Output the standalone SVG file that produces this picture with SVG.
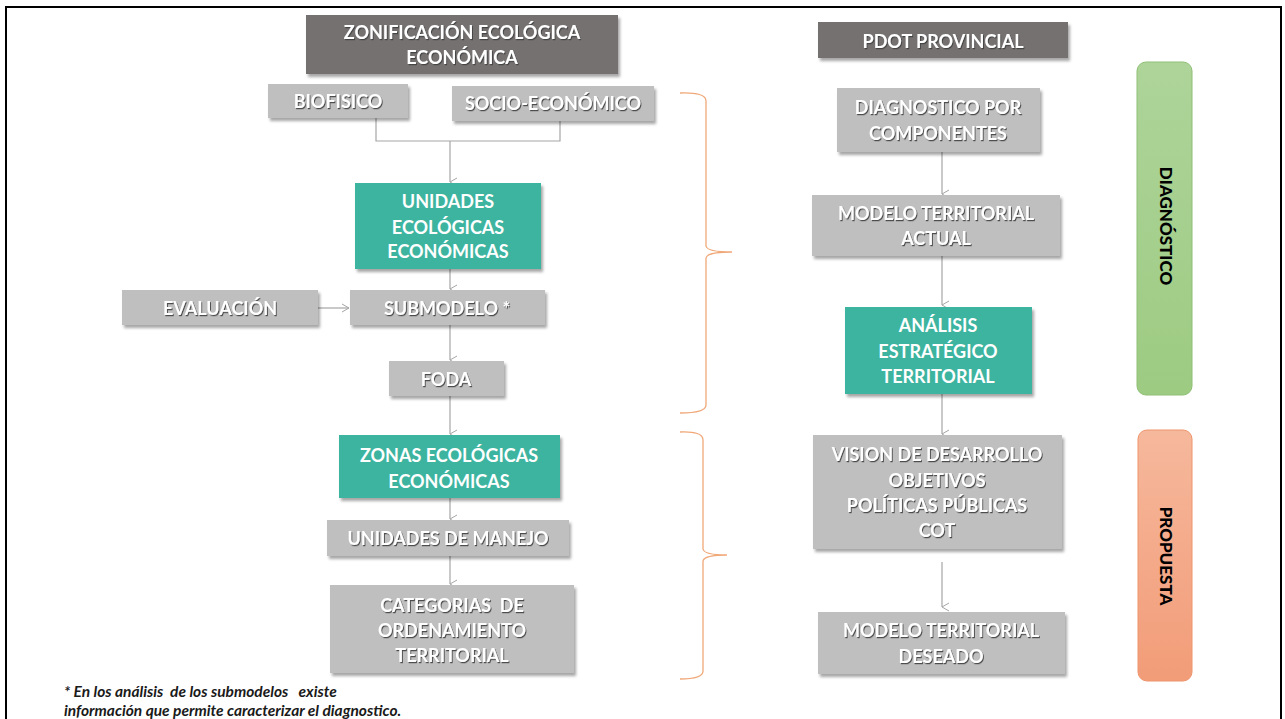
<svg xmlns="http://www.w3.org/2000/svg" width="1285" height="719" viewBox="0 0 1285 719">
<defs>
<filter id="bs" x="-10%" y="-10%" width="125%" height="135%">
<feDropShadow dx="2" dy="3" stdDeviation="1.5" flood-color="#000" flood-opacity="0.35"/>
</filter>
<filter id="ts" x="-10%" y="-30%" width="120%" height="160%">
<feDropShadow dx="1" dy="1.2" stdDeviation="0.7" flood-color="#404040" flood-opacity="0.9"/>
</filter>
<linearGradient id="gg" x1="0" y1="0" x2="0" y2="1">
<stop offset="0" stop-color="#AED49A"/>
<stop offset="1" stop-color="#9DCB82"/>
</linearGradient>
<linearGradient id="og" x1="0" y1="0" x2="0" y2="1">
<stop offset="0" stop-color="#F6B89C"/>
<stop offset="1" stop-color="#F29C78"/>
</linearGradient>
<marker id="ah" markerWidth="12" markerHeight="12" refX="5" refY="8" orient="auto-start-reverse" markerUnits="userSpaceOnUse" viewBox="0 0 12 12">
<path d="M1,1 L5,8 L9,1" fill="none" stroke="#A6A6A6" stroke-width="1"/>
</marker>
<marker id="ahr" markerWidth="12" markerHeight="12" refX="8" refY="5" markerUnits="userSpaceOnUse" viewBox="0 0 12 12">
<path d="M1,1 L8,5 L1,9" fill="none" stroke="#A6A6A6" stroke-width="1"/>
</marker>
</defs>
<style>
.g{fill:#BFBFBF;filter:url(#bs)}
.d{fill:#767171;filter:url(#bs)}
.t{fill:#3CB4A0;filter:url(#bs)}
.tx{font-family:Lato,"Open Sans","Liberation Sans",sans-serif;font-weight:700;font-size:18px;fill:#fff;text-anchor:middle;dominant-baseline:central}
.sh{filter:url(#ts)}
.c{fill:none;stroke:#A6A6A6;stroke-width:1.2}
.br{fill:none;stroke:#F0A878;stroke-width:1.3}
.vl{font-family:Lato,"Open Sans","Liberation Sans",sans-serif;font-weight:900;font-size:17px;fill:#000;text-anchor:middle;dominant-baseline:central}
.fn{font-family:Lato,"Open Sans","Liberation Sans",sans-serif;font-weight:700;font-style:italic;font-size:15.5px;fill:#1a1a1a;white-space:pre}
</style>
<rect x="0" y="0" width="1285" height="719" fill="#fff"/>
<rect x="6" y="7" width="1275" height="730" fill="none" stroke="#000" stroke-width="2"/>

<g id="connectors">
<path class="c" d="M376,118 V141 H560 V121"/>
<path class="c" d="M450,141 V182" marker-end="url(#ah)"/>
<path class="c" d="M450,269 V289" marker-end="url(#ah)"/>
<path class="c" d="M318,308 H349" marker-end="url(#ahr)"/>
<path class="c" d="M450,325 V360" marker-end="url(#ah)"/>
<path class="c" d="M450,396 V434" marker-end="url(#ah)"/>
<path class="c" d="M450,498 V519" marker-end="url(#ah)"/>
<path class="c" d="M450,556 V584" marker-end="url(#ah)"/>
<path class="c" d="M942,152 V194" marker-end="url(#ah)"/>
<path class="c" d="M942,256 V305" marker-end="url(#ah)"/>
<path class="c" d="M942,394 V434" marker-end="url(#ah)"/>
<path class="c" d="M942,562 V607" marker-end="url(#ah)"/>
</g>

<g id="brace-diagnostico">
<path class="br" d="M680,93 Q706,92 706,101 V246 Q707,252 732,252 Q707,252 706,258 V405 Q706,413 680,413"/>
</g>
<g id="brace-propuesta">
<path class="br" d="M680,432 Q703,431 703,440 V549 Q704,555 727,555 Q704,555 703,561 V671 Q703,679 680,679"/>
</g>

<g id="zee">
<rect class="d" x="306" y="15" width="312" height="59"/>
<text class="tx sh" x="462" y="32">ZONIFICACIÓN ECOLÓGICA</text>
<text class="tx sh" x="462" y="57">ECONÓMICA</text>
</g>
<g id="biofisico">
<rect class="g" x="268" y="84" width="140" height="34"/>
<text class="tx sh" x="338" y="101">BIOFISICO</text>
</g>
<g id="socioeconomico">
<rect class="g" x="452" y="86" width="202" height="35"/>
<text class="tx sh" x="553" y="103">SOCIO-ECONÓMICO</text>
</g>
<g id="unidades-ecologicas">
<rect class="t" x="355" y="183" width="186" height="86"/>
<text class="tx" x="448" y="201">UNIDADES</text>
<text class="tx" x="448" y="227">ECOLÓGICAS</text>
<text class="tx" x="448" y="251">ECONÓMICAS</text>
</g>
<g id="evaluacion">
<rect class="g" x="122" y="290" width="196" height="35"/>
<text class="tx sh" x="220" y="308">EVALUACIÓN</text>
</g>
<g id="submodelo">
<rect class="g" x="350" y="290" width="195" height="35"/>
<text class="tx sh" x="447" y="308">SUBMODELO *</text>
</g>
<g id="foda">
<rect class="g" x="389" y="361" width="115" height="35"/>
<text class="tx sh" x="446" y="379">FODA</text>
</g>
<g id="zonas">
<rect class="t" x="339" y="435" width="221" height="63"/>
<text class="tx" x="449" y="455">ZONAS ECOLÓGICAS</text>
<text class="tx" x="449" y="481">ECONÓMICAS</text>
</g>
<g id="unidades-manejo">
<rect class="g" x="327" y="520" width="242" height="36"/>
<text class="tx sh" x="448" y="538">UNIDADES DE MANEJO</text>
</g>
<g id="categorias">
<rect class="g" x="330" y="585" width="244" height="88"/>
<text class="tx sh" x="452" y="605" style="white-space:pre">CATEGORIAS  DE</text>
<text class="tx sh" x="452" y="630">ORDENAMIENTO</text>
<text class="tx sh" x="452" y="655">TERRITORIAL</text>
</g>

<g id="pdot">
<rect class="d" x="818" y="22" width="250" height="36"/>
<text class="tx sh" x="943" y="41">PDOT PROVINCIAL</text>
</g>
<g id="diagnostico-componentes">
<rect class="g" x="837" y="88" width="203" height="64"/>
<text class="tx sh" x="938" y="107">DIAGNOSTICO POR</text>
<text class="tx sh" x="938" y="133">COMPONENTES</text>
</g>
<g id="modelo-actual">
<rect class="g" x="812" y="195" width="248" height="61"/>
<text class="tx sh" x="936" y="213">MODELO TERRITORIAL</text>
<text class="tx sh" x="936" y="238">ACTUAL</text>
</g>
<g id="analisis">
<rect class="t" x="845" y="307" width="187" height="87"/>
<text class="tx" x="938" y="325">ANÁLISIS</text>
<text class="tx" x="938" y="351">ESTRATÉGICO</text>
<text class="tx" x="938" y="376">TERRITORIAL</text>
</g>
<g id="vision">
<rect class="g" x="813" y="435" width="249" height="114"/>
<text class="tx sh" x="937" y="454">VISION DE DESARROLLO</text>
<text class="tx sh" x="937" y="480">OBJETIVOS</text>
<text class="tx sh" x="937" y="505">POLÍTICAS PÚBLICAS</text>
<text class="tx sh" x="937" y="530">COT</text>
</g>
<g id="modelo-deseado">
<rect class="g" x="818" y="612" width="247" height="62"/>
<text class="tx sh" x="941" y="630">MODELO TERRITORIAL</text>
<text class="tx sh" x="941" y="656">DESEADO</text>
</g>

<g id="diagnostico-bar">
<rect x="1137" y="62" width="55" height="333" rx="9" fill="url(#gg)" stroke="#8FBF74" stroke-width="1"/>
<text class="vl" transform="translate(1166,226) rotate(90)">DIAGNÓSTICO</text>
</g>
<g id="propuesta-bar">
<rect x="1138" y="430" width="54" height="251" rx="9" fill="url(#og)" stroke="#EE946C" stroke-width="1"/>
<text class="vl" transform="translate(1166,556) rotate(90)">PROPUESTA</text>
</g>

<g id="footnote">
<text class="fn" x="64" y="697">* En los análisis  de los submodelos   existe</text>
<text class="fn" x="64" y="716">información que permite caracterizar el diagnostico.</text>
</g>
</svg>
